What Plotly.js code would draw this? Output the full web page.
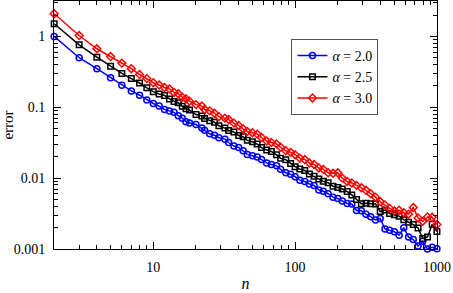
<!DOCTYPE html>
<html>
<head>
<meta charset="utf-8">
<script src="https://cdn.plot.ly/plotly-3.0.1.min.js"></script>
<style>html,body{margin:0;padding:0;background:#fff;}#chart{width:453px;height:293px;}</style>
</head>
<body>
<div id="chart"></div>
<script>
const nValues = [2,3,4,5,6,7,8,9,
  10,11,12,13,14,15,16,17,18,20,22,23,25,27,29,32,34,37,40,43,46,50,54,58,63,68,74,79,86,93,
  100,108,117,126,136,147,158,171,185,200,215,233,251,271,293,316,341,369,398,430,464,501,541,584,631,681,736,794,858,926,1000];

const errAlpha20 = [1.0,0.50,0.35,0.26,0.205,0.17,0.148,0.127,
  0.113,0.104,0.0931,0.0889,0.0848,0.0759,0.0701,0.0627,0.0598,0.0571,
  0.0511,0.0472,0.0422,0.0403,0.0372,0.0355,0.0318,0.0284,0.0271,0.0243,
  0.0216,0.0207,0.0198,0.0183,0.0164,0.0156,0.0149,0.0133,0.0119,0.0113,
  0.01047,0.00936,0.00894,0.00826,0.00788,0.00682,0.00651,0.00602,0.00538,0.00514,
  0.00475,0.00438,0.00432,0.00350,0.00346,0.00309,0.00286,0.00256,0.00269,0.00192,
  0.00183,0.00175,0.00156,0.00200,0.00147,0.00136,0.00110,0.00128,0.00100,0.00106,
  0.00101];

const errAlpha25 = [1.51,0.76,0.51,0.378,0.30,0.254,0.22,0.188,
  0.166,0.154,0.147,0.131,0.121,0.116,0.103,0.0956,0.0912,0.0790,
  0.0754,0.0697,0.0644,0.0615,0.0549,0.0508,0.0469,0.0447,0.0400,0.0383,
  0.0341,0.0326,0.0302,0.0270,0.0249,0.0238,0.0213,0.0190,0.0182,0.0161,
  0.0145,0.0134,0.0128,0.0114,0.0106,0.00975,0.00900,0.00860,0.00769,0.00735,
  0.00701,0.00646,0.00579,0.00501,0.00434,0.00441,0.00435,0.00430,0.00337,0.00355,
  0.00317,0.00303,0.00290,0.00259,0.00239,0.00221,0.00198,0.00141,0.00148,0.00224,
  0.00176];

const errAlpha30 = [2.09,1.03,0.67,0.52,0.42,0.35,0.29,0.254,
  0.222,0.206,0.190,0.182,0.162,0.155,0.139,0.132,0.122,0.109,
  0.104,0.0933,0.0890,0.0823,0.0735,0.0702,0.0671,0.0598,0.0553,0.0496,
  0.0456,0.0437,0.0418,0.0374,0.0334,0.0319,0.0304,0.0272,0.0243,0.0231,
  0.0214,0.0191,0.0183,0.0163,0.0156,0.0139,0.0133,0.0119,0.0117,0.0119,
  0.0100,0.00894,0.00855,0.00789,0.00730,0.00673,0.00602,0.00539,0.00467,0.00418,
  0.00373,0.00345,0.00352,0.00325,0.00310,0.00384,0.00274,0.00245,0.00283,0.00280,
  0.00221];

const seriesNames = ['<i>α</i> = 2.0', '<i>α</i> = 2.5', '<i>α</i> = 3.0'];
const xTickVals = [10, 100, 1000];
const xTickText = ['10', '100', '1000'];
const yTickVals = [0.001, 0.01, 0.1, 1];
const yTickText = ['0.001', '0.01', '0.1', '1'];

function minorLogTicks(lo, hi) {
  const out = [];
  for (let e = lo; e <= hi; e++) {
    for (let m = 2; m <= 9; m++) out.push(m * Math.pow(10, e));
  }
  return out;
}

const fontFam = 'Liberation Serif, Times New Roman, serif';

const traces = [
  {x: nValues, y: errAlpha20, name: seriesNames[0], mode: 'lines+markers', cliponaxis: false,
   line: {color: '#0000ff', width: 1.5},
   marker: {symbol: 'circle-open', size: 6, color: '#0000ff', line: {width: 1.5, color: '#0000ff'}}},
  {x: nValues, y: errAlpha25, name: seriesNames[1], mode: 'lines+markers', cliponaxis: false,
   line: {color: '#000000', width: 1.5},
   marker: {symbol: 'square-open', size: 5.5, color: '#000000', line: {width: 1.5, color: '#000000'}}},
  {x: nValues, y: errAlpha30, name: seriesNames[2], mode: 'lines+markers', cliponaxis: false,
   line: {color: '#ff0000', width: 1.5},
   marker: {symbol: 'diamond-open', size: 6, color: '#ff0000', line: {width: 1.5, color: '#ff0000'}}}
];

const layout = {
  width: 453, height: 293,
  margin: {l: 54, r: 16, t: 1, b: 44},
  paper_bgcolor: '#fff', plot_bgcolor: '#fff',
  font: {family: fontFam, size: 14, color: '#000'},
  showlegend: true,
  legend: {x: 0.62, y: 0.847, xanchor: 'left', yanchor: 'top',
    bgcolor: '#fff', bordercolor: '#555', borderwidth: 1, itemwidth: 30,
    font: {family: fontFam, size: 14, color: '#000'}},
  xaxis: {
    type: 'log', range: [0.2998, 3.0005],
    tickmode: 'array', tickvals: xTickVals, ticktext: xTickText,
    ticks: 'inside', ticklen: 7, tickwidth: 1, tickcolor: '#000',
    showline: true, linecolor: '#000', linewidth: 1, mirror: 'allticks',
    showgrid: false, zeroline: false, ticklabelstandoff: 5,
    minor: {tickmode: 'array', tickvals: minorLogTicks(0, 2), ticks: 'inside', ticklen: 4, tickcolor: '#000', tickwidth: 1, showgrid: false},
    title: {text: '<i>n</i>', font: {family: fontFam, size: 16}, standoff: 4}
  },
  yaxis: {
    type: 'log', range: [-3.0005, 0.5],
    tickmode: 'array', tickvals: yTickVals, ticktext: yTickText,
    ticks: 'inside', ticklen: 7, tickwidth: 1, tickcolor: '#000',
    showline: true, linecolor: '#000', linewidth: 1, mirror: 'allticks',
    showgrid: false, zeroline: false, ticklabelstandoff: 5,
    minor: {tickmode: 'array', tickvals: minorLogTicks(-3, 0), ticks: 'inside', ticklen: 4, tickcolor: '#000', tickwidth: 1, showgrid: false},
    title: {text: 'error', font: {family: fontFam, size: 15}, standoff: 8}
  }
};

Plotly.newPlot('chart', traces, layout, {displayModeBar: false, staticPlot: true});
</script>
</body>
</html>
